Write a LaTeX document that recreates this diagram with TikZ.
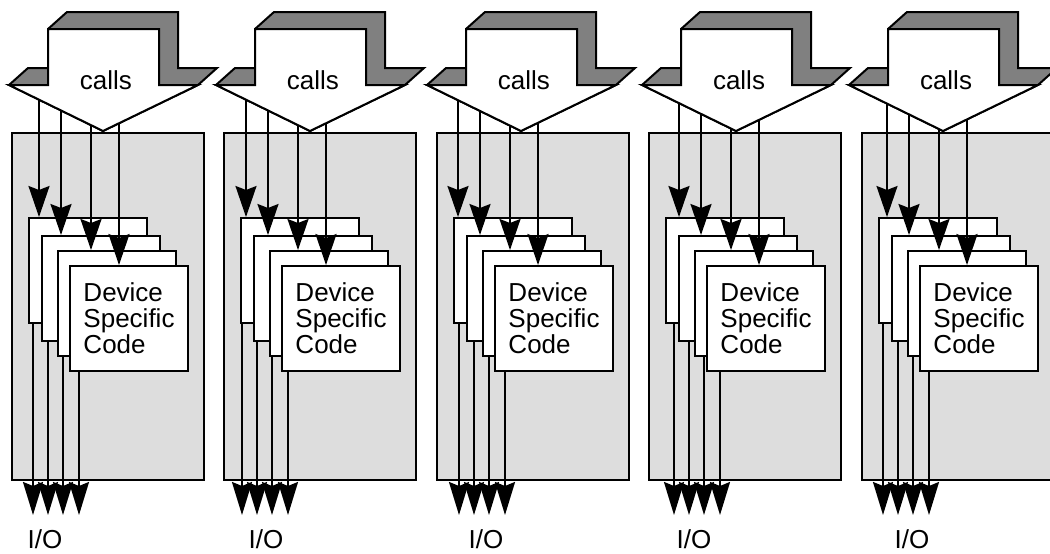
\documentclass[tikz,border=0pt]{standalone}
\usepackage{fontspec}
\setmainfont{Liberation Sans}
\usetikzlibrary{arrows.meta,positioning}
\definecolor{modgray}{RGB}{221,221,221}
\definecolor{shadegray}{RGB}{128,128,128}

\begin{document}
\begin{tikzpicture}[
  x=1pt,y=-1pt,line width=2pt,
  big/.style={font=\fontsize{26}{26}\selectfont},
  module/.style={draw,fill=modgray,minimum width=192pt,minimum height=347pt,inner sep=0pt,anchor=north west},
  devbox/.style={draw,fill=white,minimum width=118pt,minimum height=105pt,inner sep=0pt,anchor=north west,align=left,big},
  flow/.style={-{Stealth[length=31pt,width=21pt,inset=4pt]}},
  outflow/.style={-{Stealth[length=33pt,width=20pt,inset=4pt]}},
]
  \useasboundingbox (0,0) rectangle (1050,554);
  \clip (0,0) rectangle (1050,554);

  \foreach \g/\a/\t/\b/\io [count=\i] in {11/48/39/33/45, 223/255/246/242/266, 436/466/458/459/486, 648/681/679/674/694, 861/888/887/883/912}{
    \node[module] (mod\i) at (\g,132) {};

    \node[devbox] (dev\i-1) at (\g+17,217) {};
    \node[devbox] (dev\i-2) at (\g+30,235) {};
    \node[devbox] (dev\i-3) at (\g+46,250) {};
    \node[devbox] (dev\i-4) at (\g+58,265) {Device\\Specific\\Code};

    \foreach \dx [count=\k] in {0,22,52,80}{
      \coordinate (in\i-\k) at (\t+\dx,92);
      \draw[flow] (in\i-\k) -- (in\i-\k |- dev\i-\k.north);
    }

    \draw[fill=shadegray] (\a-39,85) -- (\a-20,68) -- (\a,68) -- (\a,29) -- (\a+19,12) -- (\a+130,12)
      -- (\a+130,68) -- (\a+169,68) -- (\a+150,85) -- (\a+55,131) -- cycle;
    \draw[fill=white] (\a,29) -- (\a+111,29) -- (\a+111,85) -- (\a+150,85) -- (\a+55,131)
      -- (\a-39,85) -- (\a,85) -- cycle;
    \node[big] (calls\i) at (\a+58,80) {calls};

    \foreach \dx [count=\k] in {0,15,30,46}{
      \coordinate (out\i-\k) at (\b+\dx,515);
      \draw[outflow] (out\i-\k |- dev\i-\k.south) -- (out\i-\k);
    }
    \node[big] (io\i) at (\io,539) {I/O};
  }
\end{tikzpicture}
\end{document}
